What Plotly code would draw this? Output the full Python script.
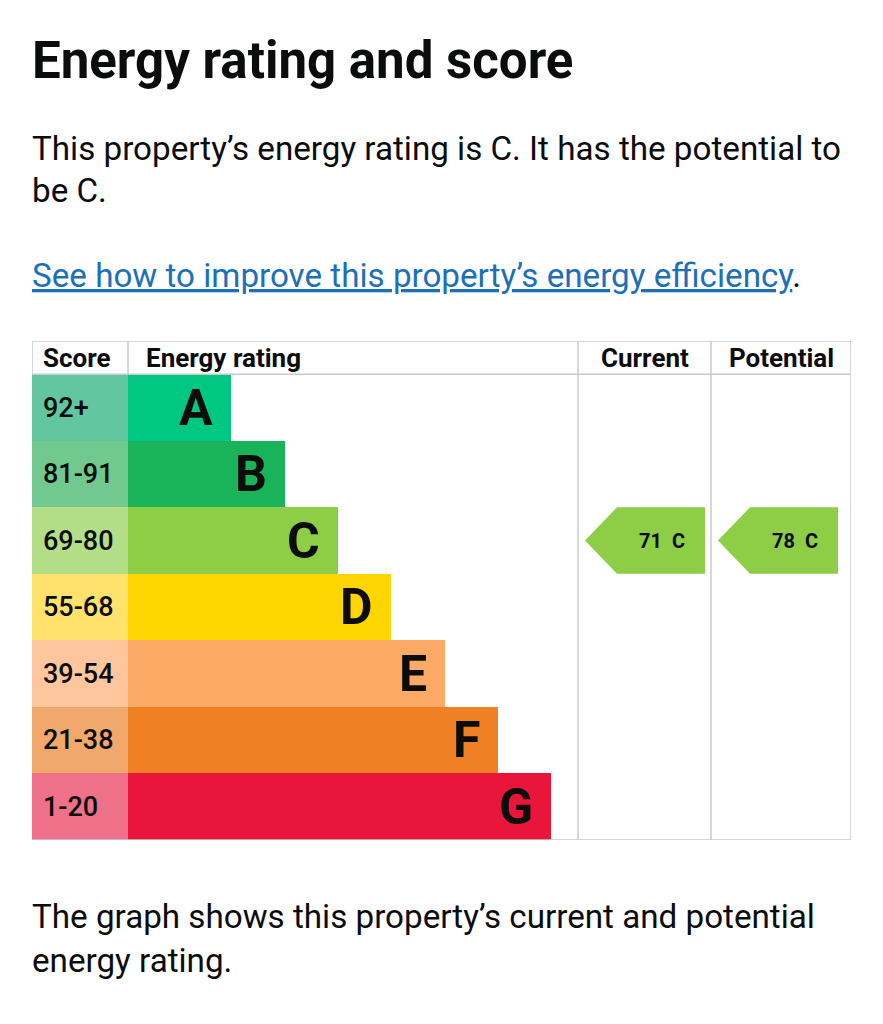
import plotly.graph_objects as go

# Band data
bands = ["A", "B", "C", "D", "E", "F", "G"]
score_ranges = ["92+", "81-91", "69-80", "55-68", "39-54", "21-38", "1-20"]
band_lower = [92, 81, 69, 55, 39, 21, 1]
bar_lengths = [103, 157, 210, 263, 317, 370, 423]
bar_colors = ["#00c781", "#19b459", "#8dce46", "#ffd500", "#fcaa65", "#ef8023", "#e9153b"]
score_colors = ["#62c6a1", "#72c98f", "#b4dd88", "#fee26c", "#fdc69c", "#f0a86c", "#ef7189"]

current_score = 71
potential_score = 78

INK = "#0b0c0c"
BORDER = "#c8cacb"
FONT = "Roboto"
OFF = 8  # page body margin

# column geometry (axis units, roughly pixels)
SCORE_W = 96
CUR_COL = (546, 679)
POT_COL = (679, 819)
X_MAX = 819


def band_index(score):
    for i, lo in enumerate(band_lower):
        if score >= lo:
            return i
    return len(bands) - 1


rows = list(range(len(bands)))

fig = go.Figure()

# score cells
fig.add_trace(go.Bar(
    y=rows, x=[SCORE_W] * len(bands), base=0, orientation="h", width=1,
    marker=dict(color=score_colors, line_width=0), hoverinfo="skip", showlegend=False,
))

# rating bars
fig.add_trace(go.Bar(
    y=rows, x=bar_lengths, base=SCORE_W, orientation="h", width=1,
    marker=dict(color=bar_colors, line_width=0), hoverinfo="skip", showlegend=False,
))

annotations = []
for i, (b, rng, ln) in enumerate(zip(bands, score_ranges, bar_lengths)):
    annotations.append(dict(x=9, y=i, xref="x", yref="y", text=rng, showarrow=False,
                            xanchor="left", yanchor="middle",
                            font=dict(family=FONT, size=27, color=INK, weight=500)))
    annotations.append(dict(x=SCORE_W + ln - 16, y=i, xref="x", yref="y", text=b,
                            showarrow=False, xanchor="right", yanchor="middle",
                            font=dict(family=FONT, size=50, color=INK, weight="bold")))


# current / potential arrows
def add_arrow(score, col, tip_pad, right_pad):
    i = band_index(score)
    left = col[0] + tip_pad
    right = col[1] - right_pad
    shoulder = left + 32
    fig.add_trace(go.Scatter(
        x=[left, shoulder, right, right, shoulder, left],
        y=[i, i - 0.5, i - 0.5, i + 0.5, i + 0.5, i],
        fill="toself", fillcolor=bar_colors[i], mode="lines", line=dict(width=0),
        hoverinfo="skip", showlegend=False,
    ))
    annotations.append(dict(x=right - 18, y=i, xref="x", yref="y",
                            text=f"{score}&nbsp;&nbsp;{bands[i]}", showarrow=False,
                            xanchor="right", yanchor="middle",
                            font=dict(family=FONT, size=20, color=INK, weight="bold")))


add_arrow(current_score, CUR_COL, 7, 6)
add_arrow(potential_score, POT_COL, 7, 13)

# header
HDR = -0.75
header_font = dict(family=FONT, size=26, color=INK, weight="bold")
annotations += [
    dict(x=9, y=HDR, text="Score", xanchor="left"),
    dict(x=SCORE_W + 16, y=HDR, text="Energy rating", xanchor="left"),
    dict(x=(CUR_COL[0] + CUR_COL[1]) / 2, y=HDR, text="Current", xanchor="center"),
    dict(x=(POT_COL[0] + POT_COL[1]) / 2, y=HDR, text="Potential", xanchor="center"),
]
for a in annotations[-4:]:
    a.update(xref="x", yref="y", showarrow=False, yanchor="middle", font=header_font)

# page text
body_font = dict(family=FONT, size=33.2, color=INK)
page_text = [
    (30, 60, "Energy rating and score", dict(family=FONT, size=51, color=INK, weight="bold")),
    (30, 148, "This property’s energy rating is C. It has the potential to", body_font),
    (30, 190, "be C.", body_font),
    (30, 275, "<span style='color:#1d70b8'><u>See how to improve this property’s energy efficiency</u></span>.", body_font),
    (30, 916, "The graph shows this property’s current and potential", body_font),
    (30, 960, "energy rating.", body_font),
]
for xpx, ypx, txt, f in page_text:
    annotations.append(dict(x=(xpx - OFF) / 883, y=1 - (ypx - OFF) / 1024, xref="paper", yref="paper",
                            text=txt, showarrow=False, xanchor="left", yanchor="middle", font=f))

# table lines
line = dict(color=BORDER, width=1.5)
shapes = [
    dict(type="line", x0=0, x1=X_MAX, y0=-1, y1=-1, line=line),
    dict(type="line", x0=0, x1=X_MAX, y0=-0.5, y1=-0.5, line=line),
    dict(type="line", x0=0, x1=X_MAX, y0=6.5, y1=6.5, line=line),
    dict(type="line", x0=0, x1=0, y0=-1, y1=-0.5, line=line),
    dict(type="line", x0=SCORE_W, x1=SCORE_W, y0=-1, y1=-0.5, line=line),
    dict(type="line", x0=CUR_COL[0], x1=CUR_COL[0], y0=-1, y1=6.5, line=line),
    dict(type="line", x0=POT_COL[0], x1=POT_COL[0], y0=-1, y1=6.5, line=line),
    dict(type="line", x0=X_MAX, x1=X_MAX, y0=-1, y1=6.5, line=line),
]
for s in shapes:
    s.update(xref="x", yref="y", layer="above")

fig.update_layout(
    width=883, height=1024,
    margin=dict(l=0, r=0, t=0, b=0),
    paper_bgcolor="white", plot_bgcolor="white",
    bargap=0, barmode="overlay",
    xaxis=dict(range=[0, X_MAX], domain=[(32 - OFF) / 883, (851 - OFF) / 883],
               visible=False, fixedrange=True),
    yaxis=dict(range=[6.5, -1], domain=[1 - (840 - OFF) / 1024, 1 - (341 - OFF) / 1024],
               visible=False, fixedrange=True),
    annotations=annotations,
    shapes=shapes,
    showlegend=False,
)

fig.write_html("out.html", config={"displayModeBar": False})
